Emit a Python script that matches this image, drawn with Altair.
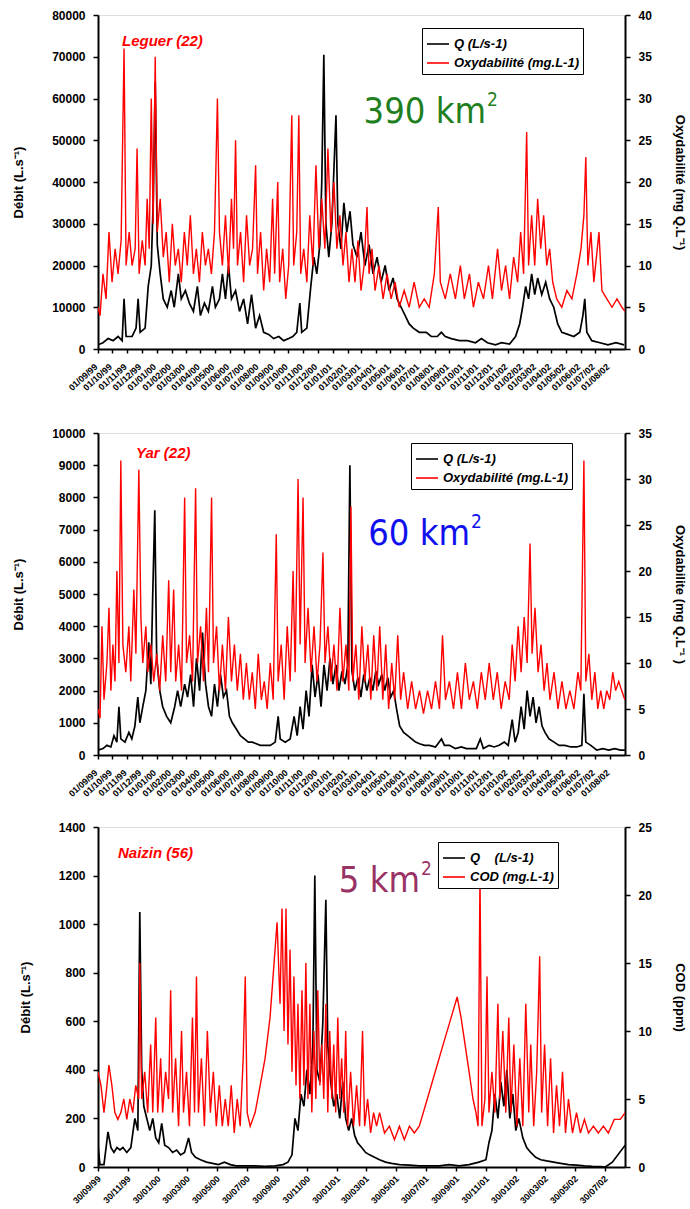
import altair as alt
import pandas as pd

# ---------------- Panel 1 : Leguer (months since 01/09/99) ----------------
LEG_Q_M = [0.0,0.34,0.69,1.03,1.37,1.65,1.78,1.92,2.33,2.6,2.74,2.88,3.22,3.43,3.64,3.77,3.91,4.05,4.25,4.46,4.73,5.0,5.21,5.49,5.69,5.97,6.24,6.52,6.79,7.0,7.27,7.54,7.82,8.02,8.3,8.5,8.71,8.92,9.12,9.4,9.67,9.95,10.22,10.49,10.77,11.04,11.32,11.66,12.0,12.35,12.69,13.03,13.31,13.58,13.79,13.92,14.27,14.54,14.75,14.95,15.16,15.29,15.43,15.57,15.77,15.98,16.26,16.39,16.6,16.8,17.0,17.22,17.42,17.7,17.97,18.24,18.52,18.79,19.07,19.34,19.62,19.89,20.16,20.44,20.71,20.99,21.26,21.54,21.95,22.43,22.77,23.18,23.46,23.73,24.14,24.69,25.24,25.79,26.2,26.61,27.16,27.57,28.12,28.53,28.81,29.01,29.22,29.42,29.63,29.84,30.04,30.32,30.59,30.86,31.14,31.41,31.69,32.1,32.51,32.92,33.13,33.26,33.4,33.74,34.29,34.84,35.39,35.94]
LEG_Q_V = [1000,1500,2500,2000,3000,2000,12000,3000,3000,5000,12000,4000,5000,15000,20000,35000,64000,25000,18000,12000,10000,14000,10000,18000,12000,14000,11000,9000,15000,8000,11000,9000,15000,10000,12000,18000,12000,20000,12000,14000,9000,12000,6000,13000,5000,8000,4000,3500,2500,3000,2000,2500,3000,4000,11000,4000,5000,15000,22000,18000,25000,40000,70500,30000,22000,30000,56000,30000,24000,35000,28000,33000,25000,22000,28000,20000,25000,18000,22000,16000,20000,14000,17000,12000,10000,8000,6000,5000,4000,4000,3000,3000,4000,3000,2500,2000,2000,1500,2500,1500,1000,1500,1200,3000,6000,10000,15000,12000,18000,13000,17000,13000,16000,12000,10000,6000,4000,3500,3000,4000,8000,12000,4000,2000,1500,1000,1500,1000]
LEG_C_M = [0.0,0.14,0.34,0.55,0.75,0.96,1.17,1.37,1.58,1.78,1.92,2.13,2.33,2.54,2.67,2.81,3.02,3.22,3.36,3.5,3.64,3.77,3.91,4.05,4.25,4.46,4.66,4.87,5.08,5.28,5.49,5.69,5.9,6.1,6.31,6.52,6.72,6.93,7.13,7.34,7.54,7.75,7.96,8.16,8.3,8.5,8.71,8.92,9.12,9.26,9.4,9.53,9.74,9.95,10.15,10.36,10.56,10.77,10.9,11.11,11.32,11.52,11.73,11.93,12.07,12.28,12.41,12.62,12.83,13.03,13.24,13.37,13.58,13.72,13.85,14.06,14.27,14.47,14.68,14.89,15.09,15.29,15.5,15.71,15.91,16.12,16.32,16.53,16.74,16.94,17.15,17.35,17.56,17.76,17.97,18.18,18.38,18.52,18.72,18.93,19.2,19.48,19.75,20.03,20.3,20.58,20.92,21.26,21.6,21.95,22.29,22.63,22.98,23.25,23.39,23.73,24.07,24.42,24.76,25.03,25.38,25.65,25.99,26.34,26.68,26.95,27.3,27.57,27.85,28.12,28.4,28.67,28.88,29.08,29.29,29.42,29.63,29.84,30.04,30.25,30.45,30.66,30.86,31.07,31.34,31.69,32.04,32.38,32.72,33.0,33.2,33.33,33.47,33.68,33.88,34.23,34.43,34.77,35.12,35.46,35.8,36.0]
LEG_C_V = [5,4,9,6,14,8,12,9,13,36,10,14,10,12,24,9,13,10,18,12,30,15,35,14,18,11,14,8,15,10,12,8,14,10,16,9,12,8,14,10,12,9,14,30,14,10,16,9,18,12,25,10,14,8,16,10,12,22,9,14,7,12,8,18,9,20,8,12,6,10,28,10,14,28,9,12,8,16,10,22,12,18,12,24,14,20,12,16,10,14,8,12,8,13,7,10,17,9,12,7,10,6,9,6,8,5,7,5,8,5,6,5,9,17,8,6,9,6,10,6,9,5,8,6,10,6,12,7,10,6,11,8,14,9,26,10,16,10,18,12,16,10,12,8,6,5,7,6,9,12,16,23,10,14,8,14,7,6,5,6,5,4.5]

# ---------------- Panel 2 : Yar (months since 01/09/99) ----------------
YAR_Q_M = [0,0.34,0.61,0.88,1.09,1.29,1.43,1.56,1.84,2.11,2.31,2.52,2.72,2.86,3.06,3.27,3.47,3.61,3.74,3.88,4.01,4.22,4.42,4.69,4.97,5.24,5.44,5.65,5.92,6.12,6.33,6.53,6.73,6.94,7.14,7.35,7.55,7.76,7.96,8.16,8.37,8.57,8.78,8.98,9.18,9.46,9.73,10.0,10.27,10.54,10.82,11.09,11.43,11.77,12.11,12.31,12.45,12.79,13.13,13.4,13.61,13.81,14.01,14.22,14.42,14.63,14.83,15.03,15.24,15.44,15.65,15.85,16.05,16.26,16.46,16.67,16.87,17.07,17.21,17.35,17.55,17.76,17.96,18.16,18.37,18.57,18.78,18.98,19.18,19.39,19.59,19.8,20.0,20.2,20.41,20.61,20.88,21.16,21.43,21.7,21.97,22.31,22.65,23.06,23.47,23.67,24.01,24.42,24.83,25.17,25.51,25.85,26.12,26.33,26.73,27.07,27.41,27.76,28.03,28.3,28.5,28.71,28.91,29.12,29.32,29.52,29.73,29.93,30.14,30.34,30.54,30.82,31.16,31.5,31.9,32.31,32.72,33.06,33.2,33.33,33.67,34.08,34.49,34.9,35.31,35.71,36.0]
YAR_Q_V = [150,200,300,250,600,400,1500,500,400,700,500,900,1800,1000,1500,2000,3500,2200,5000,7600,3000,2000,1500,1200,1000,1500,2000,1500,2200,1800,2500,1500,3000,2000,3800,2200,1500,1200,2200,1500,2500,1800,2000,1200,1000,800,600,500,400,400,350,300,300,300,400,1200,500,400,500,1200,600,1500,800,2000,1200,2800,1800,2500,1500,2800,2000,3000,2200,2800,2000,2600,2200,2800,9000,2600,2000,2400,1800,2500,2000,2400,2000,2600,2200,2500,2000,2400,1800,2000,1400,900,700,600,500,400,350,300,300,250,500,300,300,200,250,200,200,200,500,200,300,250,300,400,300,1100,400,700,1500,800,2000,1200,1800,1000,1500,900,700,500,400,300,300,250,250,300,1900,400,300,150,200,150,200,150,150]
YAR_C_M = [0,0.14,0.27,0.41,0.61,0.75,0.88,1.02,1.16,1.29,1.43,1.56,1.7,1.9,2.11,2.24,2.45,2.59,2.79,2.93,3.06,3.27,3.4,3.61,3.81,4.01,4.22,4.42,4.63,4.83,4.97,5.17,5.31,5.51,5.71,5.92,6.05,6.26,6.46,6.67,6.8,7.01,7.21,7.41,7.55,7.76,7.89,8.1,8.3,8.5,8.71,8.91,9.12,9.32,9.52,9.73,9.93,10.14,10.34,10.54,10.75,10.95,11.16,11.36,11.56,11.77,11.97,12.18,12.31,12.52,12.72,12.93,13.13,13.33,13.47,13.67,13.81,14.01,14.15,14.35,14.56,14.76,14.97,15.17,15.37,15.51,15.71,15.92,16.12,16.33,16.53,16.73,16.94,17.14,17.28,17.41,17.62,17.82,18.03,18.23,18.44,18.64,18.84,19.05,19.25,19.46,19.66,19.86,20.07,20.27,20.48,20.68,20.88,21.16,21.43,21.7,21.97,22.24,22.52,22.79,23.06,23.33,23.54,23.74,24.01,24.29,24.56,24.83,25.1,25.37,25.65,25.92,26.19,26.46,26.73,27.01,27.28,27.55,27.82,28.1,28.3,28.5,28.71,28.91,29.12,29.32,29.52,29.66,29.86,30.07,30.27,30.48,30.68,30.88,31.16,31.43,31.7,31.97,32.24,32.52,32.79,32.99,33.2,33.33,33.54,33.74,33.95,34.15,34.35,34.56,34.76,34.97,35.17,35.37,35.58,35.78,36.0]
YAR_C_V = [5,4,14,6,10,16,7,12,8,20,10,32,12,9,14,8,18,11,31,15,10,14,9,12,8,11,7,13,8,19,9,18,8,12,7,28,10,13,8,29,10,14,8,16,9,28,10,14,7,12,7,15,8,12,7,11,6,10,6,9,5,11,6,8,5,10,6,24,8,12,6,14,8,20,9,30,12,28,10,16,9,14,8,12,22,10,14,8,12,7,16,8,12,7,27,8,12,6,14,8,12,6,13,7,14,6,12,5,10,6,13,6,9,5,8,5,7,4.5,7,5,8,5,13,6,8,5,9,5,10,6,8,5,9,6,10,6,9,5,8,6,12,8,14,9,15,10,23,11,16,9,12,7,10,6,9,5,8,5,7,5,9,7,32,8,11,6,9,5,7,5,7,6,9,7,8,7,6]

# ---------------- Panel 3 : Naizin (months since 30/09/99) ----------------
NAI_Q_M = [0,0.13,0.4,0.67,0.87,1.07,1.27,1.47,1.67,1.93,2.2,2.47,2.67,2.8,2.93,3.07,3.27,3.47,3.67,3.87,4.07,4.27,4.47,4.73,5.0,5.27,5.53,5.8,6.07,6.27,6.53,6.87,7.27,7.67,8.07,8.47,8.87,9.27,9.87,10.53,11.2,11.87,12.4,12.73,13.0,13.2,13.4,13.6,13.8,14.0,14.2,14.4,14.53,14.67,14.87,15.07,15.27,15.4,15.6,15.8,16.0,16.2,16.4,16.6,16.8,17.0,17.2,17.4,17.67,17.93,18.2,18.53,18.87,19.27,19.67,20.2,20.87,21.53,22.2,22.87,23.53,24.2,24.87,25.53,26.0,26.2,26.4,26.6,26.8,27.0,27.2,27.4,27.6,27.8,28.0,28.2,28.47,28.73,29.0,29.33,29.67,30.07,30.53,31.0,31.53,32.07,32.6,33.13,33.67,34.0,34.47,35.33]
NAI_Q_V = [90,10,10,145,80,60,80,70,80,60,80,200,150,1050,400,250,200,150,200,120,100,180,90,80,60,70,50,60,120,60,40,30,20,15,10,20,10,5,5,5,3,5,10,20,50,200,150,300,250,400,300,500,1200,400,350,600,1100,500,350,250,300,200,350,200,150,200,130,100,80,60,50,40,30,20,15,10,8,5,5,5,10,5,10,20,30,100,150,300,200,350,250,400,200,300,150,200,120,80,60,40,30,25,20,15,10,8,5,3,2,0,20,90]
NAI_C_M = [0,0.2,0.4,0.6,0.73,0.93,1.13,1.33,1.53,1.73,1.93,2.13,2.33,2.53,2.73,2.8,2.93,3.13,3.33,3.53,3.67,3.87,4.0,4.2,4.33,4.53,4.73,4.87,5.0,5.2,5.4,5.6,5.73,5.93,6.13,6.33,6.47,6.6,6.73,6.93,7.13,7.33,7.53,7.73,7.93,8.13,8.33,8.53,8.73,8.93,9.13,9.33,9.53,9.73,9.87,10.0,10.2,10.53,10.87,11.2,11.53,11.8,12.0,12.2,12.33,12.47,12.6,12.73,12.87,13.0,13.13,13.27,13.4,13.53,13.67,13.8,13.93,14.07,14.2,14.33,14.47,14.6,14.73,14.87,15.0,15.13,15.27,15.4,15.53,15.67,15.8,15.93,16.07,16.2,16.33,16.47,16.6,16.73,16.93,17.13,17.33,17.53,17.73,17.87,18.07,18.27,18.47,18.67,18.87,19.2,19.53,19.87,20.2,20.53,20.87,21.2,21.53,22.07,22.6,23.13,23.67,24.07,24.33,24.6,24.87,25.13,25.33,25.47,25.6,25.73,25.93,26.07,26.2,26.4,26.6,26.8,26.93,27.13,27.33,27.53,27.67,27.87,28.07,28.27,28.47,28.67,28.87,29.0,29.2,29.4,29.6,29.73,29.93,30.13,30.33,30.53,30.73,30.93,31.13,31.33,31.53,31.8,32.07,32.33,32.6,32.87,33.2,33.53,33.87,34.2,34.6,35.0,35.33]
NAI_C_V = [7,6,4,6,7.5,6,4,3.5,4,5,3.5,5,4,6,5,15,5,7,4,9,4,11,4,8,4,7,5,13,4,8,3,10,4,7,3,11,4,14,4,8,3,10,4,7,3,6,3,5,3,6,2.5,5,3,8,14,4,3,4,6,8,11,15,18,12,19,10,19,9,16,7,14,6,12,5,13,6,15,5,12,4,10,5,13,6,9,5,12,4,10,5,9,4,11,5,8,4,10,3,7,3,6,3,10,3,5,2.5,4,3,4,2.5,3,2,3,2,3,2.5,3,5,7,9,11,12.5,11,9,7,5,4,3,21.5,3,5,14,4,7,4,12,5,10,4,11,4,9,3,8,3,12,4,9,3,7,15.5,4,9,3,8,2.5,6,3,7,2.5,5,2.5,4,2.5,3.5,2.5,3,2.5,3,2.5,3.5,3.5,4]

FONT = "Liberation Sans"
COND = "'DejaVu Sans Condensed', 'Roboto Condensed', Roboto, sans-serif"


def to_df(months, vals, start, series):
    base = pd.Timestamp(start)
    dates = [base + pd.Timedelta(days=float(m) * 30.4375) for m in months]
    return pd.DataFrame({"date": dates, "v": vals, "series": series})


def dt(y, m, d):
    return alt.DateTime(year=y, month=m, date=d)


def panel(qdf, cdf, dom, ticks, angle, lab_pad, lab_off, ymax, ystep, rmax, rstep,
          ltitle, rtitle, labels, name, name_xy, area, area_color, area_xy,
          area_size, sup_xy, legend_xy, height):
    xenc = alt.X("date:T", scale=alt.Scale(domain=dom),
                 axis=alt.Axis(values=ticks, format="%d/%m/%y", labelAngle=angle,
                               title=None, labelFont=FONT, labelFontSize=9,
                               labelFontWeight="bold", labelColor="black",
                               tickSize=4, tickWidth=1.5, tickColor="black",
                               domainWidth=2, domainColor="black",
                               labelOverlap=False, labelFlush=False,
                               labelBound=False, labelPadding=lab_pad,
                               labelOffset=lab_off, grid=False))
    color = alt.Color("series:N",
                      scale=alt.Scale(domain=labels, range=["black", "red"]),
                      legend=alt.Legend(orient="none", legendX=legend_xy[0],
                                        legendY=legend_xy[1], title=None,
                                        direction="vertical", strokeColor="black",
                                        fillColor="white", padding=4, rowPadding=0,
                                        labelFont=FONT, labelFontSize=13,
                                        labelFontStyle="italic", labelFontWeight="bold",
                                        labelColor="black",
                                        symbolType="stroke", symbolSize=484,
                                        symbolStrokeWidth=1.6, labelLimit=400,
                                        labelOffset=4))
    yl = alt.Y("v:Q", scale=alt.Scale(domain=[0, ymax], nice=False),
               axis=alt.Axis(values=list(range(0, ymax + 1, ystep)), format="d",
                             title=ltitle, grid=False, labelFont=FONT, labelFontSize=12,
                             labelFontWeight="bold", labelColor="black",
                             titleFont=FONT, titleFontSize=13, titleFontWeight="bold",
                             titleColor="black", titlePadding=26, tickSize=5,
                             tickWidth=1.5, tickColor="black", domainWidth=2,
                             domainColor="black", labelPadding=8))
    yr = alt.Y("v:Q", scale=alt.Scale(domain=[0, rmax], nice=False),
               axis=alt.Axis(orient="right", values=list(range(0, rmax + 1, rstep)),
                             format="d", title=rtitle, grid=False, labelFont=FONT,
                             labelFontSize=12, labelFontWeight="bold",
                             labelColor="black", titleFont=FONT, titleFontSize=13,
                             titleFontWeight="bold", titleColor="black",
                             titlePadding=21, tickSize=5, tickWidth=1.5,
                             tickColor="black", domainWidth=2, domainColor="black",
                             labelPadding=8))
    q = alt.Chart(qdf).mark_line(strokeWidth=1.7, clip=True).encode(x=xenc, y=yl, color=color)
    c = alt.Chart(cdf).mark_line(strokeWidth=1.4, clip=True).encode(x=xenc, y=yr, color=color)
    tdf = pd.DataFrame({"t": [name]})
    t = alt.Chart(tdf).mark_text(align="left", baseline="alphabetic", font=FONT,
                                 fontSize=15, fontStyle="italic", fontWeight="bold",
                                 color="red").encode(
        x=alt.value(name_xy[0]), y=alt.value(name_xy[1]), text="t:N")
    adf = pd.DataFrame({"t": [area]})
    a = alt.Chart(adf).mark_text(align="right", baseline="alphabetic", font=COND,
                                 fontSize=area_size, color=area_color).encode(
        x=alt.value(area_xy[0]), y=alt.value(area_xy[1]), text="t:N")
    sdf = pd.DataFrame({"t": ["2"]})
    s = alt.Chart(sdf).mark_text(align="left", baseline="alphabetic", font=COND,
                                 fontSize=int(area_size * 0.55), color=area_color).encode(
        x=alt.value(sup_xy[0]), y=alt.value(sup_xy[1]), text="t:N")
    return alt.layer(q, c, t, a, s).resolve_scale(y="independent").properties(
        width=527, height=height)


ticks12 = [dt(1999 + (8 + i) // 12, (8 + i) % 12 + 1, 1) for i in range(36)]
ticks3 = [dt(1999 + (8 + 2 * i) // 12, (8 + 2 * i) % 12 + 1, 30) for i in range(18)]

p1 = panel(to_df(LEG_Q_M, LEG_Q_V, "1999-09-01", "Q (L/s-1)"),
           to_df(LEG_C_M, LEG_C_V, "1999-09-01", "Oxydabilité (mg.L-1)"),
           [dt(1999, 9, 1), dt(2002, 9, 1)], ticks12, -42, 9, -5,
           80000, 10000, 40, 5,
           "Débit (L.s⁻¹)", "Oxydabilité (mg Q.L⁻¹)",
           ["Q (L/s-1)", "Oxydabilité (mg.L-1)"], "Leguer (22)", (24, 31),
           "390 km", "#1f7f1f", (388, 108), 36, (389, 91), (324, 13), 334)

p2 = panel(to_df(YAR_Q_M, YAR_Q_V, "1999-09-01", "Q (L/s-1)"),
           to_df(YAR_C_M, YAR_C_V, "1999-09-01", "Oxydabilité (mg.L-1)"),
           [dt(1999, 9, 1), dt(2002, 9, 1)], ticks12, -42, 9, -5,
           10000, 1000, 35, 5,
           "Débit (L.s⁻¹)", "Oxydabilite (mg Q.L⁻¹ )",
           ["Q (L/s-1)", "Oxydabilité (mg.L-1)"], "Yar (22)", (38, 25),
           "60 km", "#1010ee", (372, 112), 36, (373, 95), (313, 10), 322)

p3 = panel(to_df(NAI_Q_M, NAI_Q_V, "1999-09-30", "Q\u00a0\u00a0\u00a0\u00a0(L/s-1)"),
           to_df(NAI_C_M, NAI_C_V, "1999-09-30", "COD (mg.L-1)"),
           [dt(1999, 9, 30), dt(2002, 9, 9)], ticks3, -45, 3, -2,
           1400, 200, 25, 5,
           "Débit (L.s⁻¹)", "COD (ppm)",
           ["Q\u00a0\u00a0\u00a0\u00a0(L/s-1)", "COD (mg.L-1)"], "Naizin (56)", (20, 31),
           "5 km", "#993366", (322, 65), 36, (323, 48), (340, 15), 340)

top = alt.vconcat(p1, p2, spacing=33).resolve_scale(
    color="independent").resolve_legend(color="independent")
chart = alt.vconcat(top, p3, spacing=21).resolve_scale(
    color="independent").resolve_legend(color="independent").properties(
    padding={"left": 12, "right": 0, "top": 8, "bottom": 2}
).configure_view(stroke="black", strokeWidth=2).configure(font=FONT)

chart.save("out.html", embed_options={"renderer": "svg", "actions": False})
